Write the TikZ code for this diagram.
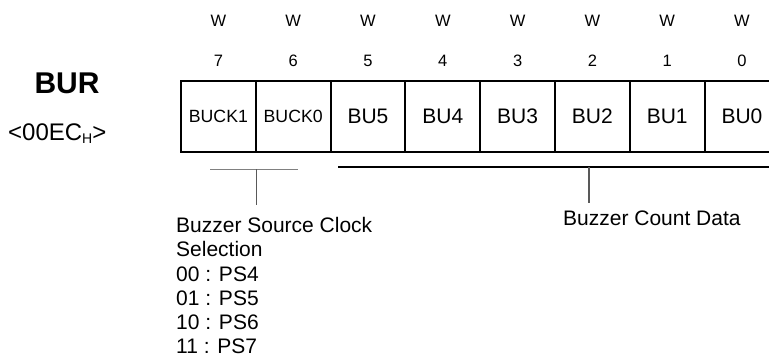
\documentclass[tikz,border=0pt]{standalone}
\usepackage{fontspec}
\setmainfont{Liberation Sans}

\begin{document}
\begin{tikzpicture}[x=1pt, y=-1pt,
  bitcell/.style={draw, line width=2pt, minimum width=74.8pt, minimum height=71pt, inner sep=0pt},
  bitnum/.style={font=\fontsize{16.5}{18}\selectfont, anchor=base, inner sep=0pt},
  brace/.style={line width=1.2pt, gray!70!black}]
  \useasboundingbox (0,0) rectangle (769,358);
  % register name and address
  \node[font=\bfseries\fontsize{30}{32}\selectfont, anchor=base, inner sep=0pt] (reg) at (67,94) {BUR};
  \node[font=\fontsize{24}{26}\selectfont, anchor=base west, inner sep=0pt] (addr) at (8,141)
    {<00EC\raisebox{-3pt}{\fontsize{14}{14}\selectfont H}>};
  % bit cells
  \foreach \i/\lbl/\fs in {7/BUCK1/17.7, 6/BUCK0/17.7, 5/BU5/21, 4/BU4/21, 3/BU3/21, 2/BU2/21, 1/BU1/21, 0/BU0/21} {
    \node[bitcell, font=\fontsize{\fs}{\fs}\selectfont] (b\i) at ({218.4+74.8*(7-\i)},116.5) {\lbl};
    \node[bitnum] (n\i) at ({218.4+74.8*(7-\i)},67) {\i};
    \node[bitnum] (w\i) at ({218.4+74.8*(7-\i)},27) {W};
  }
  % clock selection
  \node[anchor=north west, align=left, inner sep=0pt, font=\fontsize{21}{24.3}\selectfont] (clkText) at (176,217)
    {Buzzer Source Clock\\Selection\\00 : PS4\\01 : PS5\\10 : PS6\\11 : PS7};
  \coordinate (clkL) at (210,169.5);
  \coordinate (clkR) at (298,169.5);
  \coordinate (clkTick) at (b7.south east |- clkL);
  \draw[brace, gray] (clkL) -- (clkR);
  \draw[brace] (clkTick) -- (clkTick |- clkText.north) [shorten >=12pt];
  % count data
  \node[anchor=base west, inner sep=0pt, font=\fontsize{21}{24}\selectfont] (cntText) at (563,226) {Buzzer Count Data};
  \coordinate (cntL) at (338,167);
  \coordinate (cntR) at (780,167);
  \coordinate (cntTick) at (589,167);
  \draw[line width=1.2pt] (cntL) -- (cntR);
  \draw[brace] (cntTick) -- (cntTick |- cntText.north) [shorten >=8pt];
\end{tikzpicture}
\end{document}
